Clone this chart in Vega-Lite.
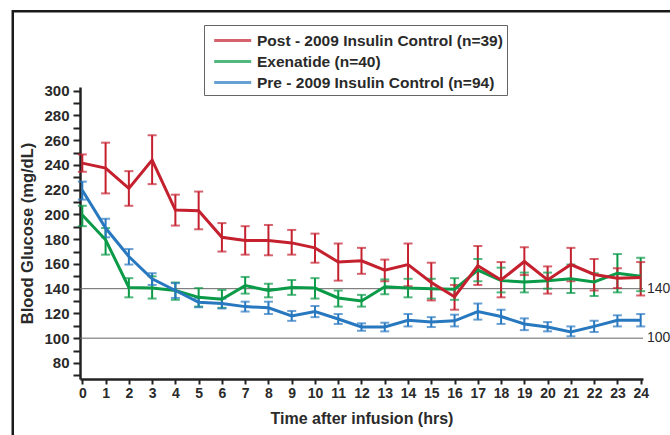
{
  "$schema": "https://vega.github.io/schema/vega-lite/v6.json",
  "width": 563,
  "height": 292,
  "autosize": {"type": "none"},
  "padding": {"left": 80, "top": 87, "right": 27, "bottom": 56},
  "background": "white",
  "config": {
    "font": "Liberation Sans",
    "view": {"stroke": null},
    "axis": {
      "domainWidth": 2.5,
      "domainColor": "#222222",
      "tickWidth": 2,
      "tickColor": "#222222",
      "labelFont": "Liberation Sans",
      "labelFontWeight": "bold",
      "labelColor": "#2a2a2a",
      "labelOverlap": false,
      "labelFlush": false,
      "grid": false,
      "titleFont": "Liberation Sans",
      "titleFontWeight": "bold",
      "titleColor": "#2a2a2a"
    },
    "axisX": {"labelFontSize": 14, "tickSize": 5, "labelPadding": 2, "titleFontSize": 16, "titlePadding": 10},
    "axisY": {"labelFontSize": 15, "tickSize": 7, "labelPadding": 4, "titleFontSize": 16.5, "titlePadding": 8},
    "legend": {
      "orient": "none",
      "legendX": 124,
      "legendY": -62,
      "symbolType": "M-0.53,0H3.17",
      "symbolSize": 400,
      "symbolStrokeWidth": 3,
      "labelOffset": 26,
      "labelFont": "Liberation Sans",
      "labelFontSize": 15.5,
      "labelFontWeight": "bold",
      "labelColor": "#2a2a2a",
      "labelLimit": 400,
      "padding": 4,
      "rowPadding": 1,
      "strokeColor": "#666666",
      "fillColor": "white"
    }
  },
  "layer": [
    {
      "data": {"values": [{"frame": 1}]},
      "mark": {"type": "rect", "fill": null, "stroke": "#1a1a1a", "strokeWidth": 2.5, "clip": false},
      "encoding": {
        "x": {"datum": -2.99, "type": "quantitative"},
        "x2": {"datum": 30},
        "y": {"datum": 364.3, "type": "quantitative"},
        "y2": {"datum": 0}
      }
    },
    {
      "data": {"values": [{"ref": 140}, {"ref": 100}]},
      "layer": [
        {
          "mark": {"type": "rule", "stroke": "#666666", "strokeWidth": 1},
          "encoding": {"y": {"field": "ref", "type": "quantitative"}}
        },
        {
          "mark": {"type": "text", "align": "left", "baseline": "middle", "dx": 4, "fontSize": 14, "fill": "#2a2a2a", "clip": false},
          "encoding": {
            "x": {"datum": 24.1, "type": "quantitative"},
            "y": {"field": "ref", "type": "quantitative"},
            "text": {"field": "ref", "type": "quantitative"}
          }
        }
      ]
    },
    {
      "data": {
        "values": [
          {"t": 0, "group": "Exenatide (n=40)", "mean": 199.5, "lo": 190.5, "hi": 207},
          {"t": 1, "group": "Exenatide (n=40)", "mean": 179.5, "lo": 167.5, "hi": 189},
          {"t": 2, "group": "Exenatide (n=40)", "mean": 141, "lo": 133, "hi": 148.5},
          {"t": 3, "group": "Exenatide (n=40)", "mean": 140.5, "lo": 132, "hi": 150},
          {"t": 4, "group": "Exenatide (n=40)", "mean": 138.5, "lo": 131, "hi": 145},
          {"t": 5, "group": "Exenatide (n=40)", "mean": 133, "lo": 125.5, "hi": 140.5},
          {"t": 6, "group": "Exenatide (n=40)", "mean": 131.5, "lo": 124.5, "hi": 139},
          {"t": 7, "group": "Exenatide (n=40)", "mean": 142.5, "lo": 136, "hi": 149.5},
          {"t": 8, "group": "Exenatide (n=40)", "mean": 138.5, "lo": 133, "hi": 144},
          {"t": 9, "group": "Exenatide (n=40)", "mean": 141, "lo": 135, "hi": 147},
          {"t": 10, "group": "Exenatide (n=40)", "mean": 140.5, "lo": 132, "hi": 148.5},
          {"t": 11, "group": "Exenatide (n=40)", "mean": 132.5, "lo": 125.5, "hi": 138.5},
          {"t": 12, "group": "Exenatide (n=40)", "mean": 130, "lo": 125.5, "hi": 135},
          {"t": 13, "group": "Exenatide (n=40)", "mean": 141.5, "lo": 135.5, "hi": 147.5},
          {"t": 14, "group": "Exenatide (n=40)", "mean": 140.5, "lo": 133, "hi": 148},
          {"t": 15, "group": "Exenatide (n=40)", "mean": 140, "lo": 132, "hi": 148},
          {"t": 16, "group": "Exenatide (n=40)", "mean": 139.5, "lo": 131, "hi": 148.5},
          {"t": 17, "group": "Exenatide (n=40)", "mean": 155, "lo": 146, "hi": 164},
          {"t": 18, "group": "Exenatide (n=40)", "mean": 146.5, "lo": 137, "hi": 157},
          {"t": 19, "group": "Exenatide (n=40)", "mean": 145.5, "lo": 137, "hi": 153},
          {"t": 20, "group": "Exenatide (n=40)", "mean": 146.5, "lo": 140, "hi": 153},
          {"t": 21, "group": "Exenatide (n=40)", "mean": 148, "lo": 136.5, "hi": 159.5},
          {"t": 22, "group": "Exenatide (n=40)", "mean": 145.5, "lo": 134, "hi": 152.5},
          {"t": 23, "group": "Exenatide (n=40)", "mean": 152.5, "lo": 137, "hi": 168},
          {"t": 24, "group": "Exenatide (n=40)", "mean": 150, "lo": 138, "hi": 165},
          {"t": 0, "group": "Pre - 2009 Insulin Control (n=94)", "mean": 219.5, "lo": 212, "hi": 226.5},
          {"t": 1, "group": "Pre - 2009 Insulin Control (n=94)", "mean": 189, "lo": 181.5, "hi": 196.5},
          {"t": 2, "group": "Pre - 2009 Insulin Control (n=94)", "mean": 166, "lo": 159.5, "hi": 172},
          {"t": 3, "group": "Pre - 2009 Insulin Control (n=94)", "mean": 148, "lo": 143, "hi": 152.5},
          {"t": 4, "group": "Pre - 2009 Insulin Control (n=94)", "mean": 138.5, "lo": 132.5, "hi": 144.5},
          {"t": 5, "group": "Pre - 2009 Insulin Control (n=94)", "mean": 129, "lo": 125, "hi": 132.5},
          {"t": 6, "group": "Pre - 2009 Insulin Control (n=94)", "mean": 128, "lo": 124, "hi": 132},
          {"t": 7, "group": "Pre - 2009 Insulin Control (n=94)", "mean": 125.5, "lo": 121.5, "hi": 129.5},
          {"t": 8, "group": "Pre - 2009 Insulin Control (n=94)", "mean": 124.5, "lo": 119.5, "hi": 129.5},
          {"t": 9, "group": "Pre - 2009 Insulin Control (n=94)", "mean": 118, "lo": 114, "hi": 122},
          {"t": 10, "group": "Pre - 2009 Insulin Control (n=94)", "mean": 121.5, "lo": 117, "hi": 126},
          {"t": 11, "group": "Pre - 2009 Insulin Control (n=94)", "mean": 115.5, "lo": 111.5, "hi": 119.5},
          {"t": 12, "group": "Pre - 2009 Insulin Control (n=94)", "mean": 109, "lo": 106, "hi": 112},
          {"t": 13, "group": "Pre - 2009 Insulin Control (n=94)", "mean": 109, "lo": 105.5, "hi": 112.5},
          {"t": 14, "group": "Pre - 2009 Insulin Control (n=94)", "mean": 114.5, "lo": 109.5, "hi": 119.5},
          {"t": 15, "group": "Pre - 2009 Insulin Control (n=94)", "mean": 113, "lo": 109, "hi": 117},
          {"t": 16, "group": "Pre - 2009 Insulin Control (n=94)", "mean": 114, "lo": 109.5, "hi": 119},
          {"t": 17, "group": "Pre - 2009 Insulin Control (n=94)", "mean": 121.5, "lo": 115, "hi": 128},
          {"t": 18, "group": "Pre - 2009 Insulin Control (n=94)", "mean": 117.5, "lo": 111.5, "hi": 123},
          {"t": 19, "group": "Pre - 2009 Insulin Control (n=94)", "mean": 111.5, "lo": 106.5, "hi": 116},
          {"t": 20, "group": "Pre - 2009 Insulin Control (n=94)", "mean": 109, "lo": 105.5, "hi": 113},
          {"t": 21, "group": "Pre - 2009 Insulin Control (n=94)", "mean": 105, "lo": 101.5, "hi": 109.5},
          {"t": 22, "group": "Pre - 2009 Insulin Control (n=94)", "mean": 109.5, "lo": 105, "hi": 114},
          {"t": 23, "group": "Pre - 2009 Insulin Control (n=94)", "mean": 114.5, "lo": 109.5, "hi": 118.5},
          {"t": 24, "group": "Pre - 2009 Insulin Control (n=94)", "mean": 114.5, "lo": 109.5, "hi": 119.5},
          {"t": 0, "group": "Post - 2009 Insulin Control (n=39)", "mean": 241.5, "lo": 234.5, "hi": 248.5},
          {"t": 1, "group": "Post - 2009 Insulin Control (n=39)", "mean": 237.5, "lo": 217, "hi": 258},
          {"t": 2, "group": "Post - 2009 Insulin Control (n=39)", "mean": 221, "lo": 207, "hi": 235},
          {"t": 3, "group": "Post - 2009 Insulin Control (n=39)", "mean": 244, "lo": 224.5, "hi": 264},
          {"t": 4, "group": "Post - 2009 Insulin Control (n=39)", "mean": 203.5, "lo": 191, "hi": 216},
          {"t": 5, "group": "Post - 2009 Insulin Control (n=39)", "mean": 203, "lo": 188, "hi": 218.5},
          {"t": 6, "group": "Post - 2009 Insulin Control (n=39)", "mean": 181.5, "lo": 170, "hi": 193},
          {"t": 7, "group": "Post - 2009 Insulin Control (n=39)", "mean": 179, "lo": 167.5, "hi": 190.5},
          {"t": 8, "group": "Post - 2009 Insulin Control (n=39)", "mean": 179, "lo": 167, "hi": 191.5},
          {"t": 9, "group": "Post - 2009 Insulin Control (n=39)", "mean": 177, "lo": 167.5, "hi": 187.5},
          {"t": 10, "group": "Post - 2009 Insulin Control (n=39)", "mean": 173, "lo": 161, "hi": 184.5},
          {"t": 11, "group": "Post - 2009 Insulin Control (n=39)", "mean": 161.5, "lo": 146.5, "hi": 176.5},
          {"t": 12, "group": "Post - 2009 Insulin Control (n=39)", "mean": 162.5, "lo": 152, "hi": 173},
          {"t": 13, "group": "Post - 2009 Insulin Control (n=39)", "mean": 155, "lo": 146, "hi": 163.5},
          {"t": 14, "group": "Post - 2009 Insulin Control (n=39)", "mean": 159.5, "lo": 142, "hi": 176.5},
          {"t": 15, "group": "Post - 2009 Insulin Control (n=39)", "mean": 145, "lo": 130.5, "hi": 161},
          {"t": 16, "group": "Post - 2009 Insulin Control (n=39)", "mean": 133.5, "lo": 123, "hi": 143},
          {"t": 17, "group": "Post - 2009 Insulin Control (n=39)", "mean": 158.5, "lo": 143, "hi": 174.5},
          {"t": 18, "group": "Post - 2009 Insulin Control (n=39)", "mean": 147, "lo": 133, "hi": 161.5},
          {"t": 19, "group": "Post - 2009 Insulin Control (n=39)", "mean": 162, "lo": 151, "hi": 173.5},
          {"t": 20, "group": "Post - 2009 Insulin Control (n=39)", "mean": 147, "lo": 136, "hi": 158},
          {"t": 21, "group": "Post - 2009 Insulin Control (n=39)", "mean": 159.5, "lo": 146, "hi": 173},
          {"t": 22, "group": "Post - 2009 Insulin Control (n=39)", "mean": 151.5, "lo": 138.5, "hi": 164},
          {"t": 23, "group": "Post - 2009 Insulin Control (n=39)", "mean": 148.5, "lo": 140.5, "hi": 156.5},
          {"t": 24, "group": "Post - 2009 Insulin Control (n=39)", "mean": 149, "lo": 134.5, "hi": 161.5}
        ]
      },
      "encoding": {
        "x": {
          "field": "t",
          "type": "quantitative",
          "scale": {"domain": [-0.1, 24.1], "nice": false, "zero": false},
          "axis": {
            "values": [0, 1, 2, 3, 4, 5, 6, 7, 8, 9, 10, 11, 12, 13, 14, 15, 16, 17, 18, 19, 20, 21, 22, 23, 24],
            "tickCount": 25,
            "labelOverlap": false,
            "labelFlush": false,
            "title": "Time after infusion (hrs)"
          }
        },
        "color": {
          "field": "group",
          "type": "nominal",
          "scale": {
            "domain": ["Post - 2009 Insulin Control (n=39)", "Exenatide (n=40)", "Pre - 2009 Insulin Control (n=94)"],
            "range": ["#C4202E", "#0A9A48", "#2878C0"]
          },
          "legend": {"title": null, "labelExpr": "datum.label + '\u2002'"}
        }
      },
      "layer": [
        {
          "mark": {"type": "rule", "strokeWidth": 2},
          "encoding": {
            "y": {
              "field": "lo",
              "type": "quantitative",
              "scale": {"domain": [67, 303], "nice": false, "zero": false},
              "axis": {
                "values": [70, 80, 90, 100, 110, 120, 130, 140, 150, 160, 170, 180, 190, 200, 210, 220, 230, 240, 250, 260, 270, 280, 290, 300],
                "tickCount": 24,
                "labelOverlap": false,
                "labelFlush": false,
                "labelExpr": "datum.value % 20 === 0 ? datum.label : ''",
                "title": "Blood Glucose (mg/dL)"
              }
            },
            "y2": {"field": "hi"}
          }
        },
        {
          "mark": {"type": "tick", "orient": "horizontal", "size": 9, "thickness": 2},
          "encoding": {"y": {"field": "lo", "type": "quantitative"}}
        },
        {
          "mark": {"type": "tick", "orient": "horizontal", "size": 9, "thickness": 2},
          "encoding": {"y": {"field": "hi", "type": "quantitative"}}
        },
        {
          "mark": {"type": "line", "strokeWidth": 3},
          "encoding": {"y": {"field": "mean", "type": "quantitative"}}
        }
      ]
    }
  ]
}
